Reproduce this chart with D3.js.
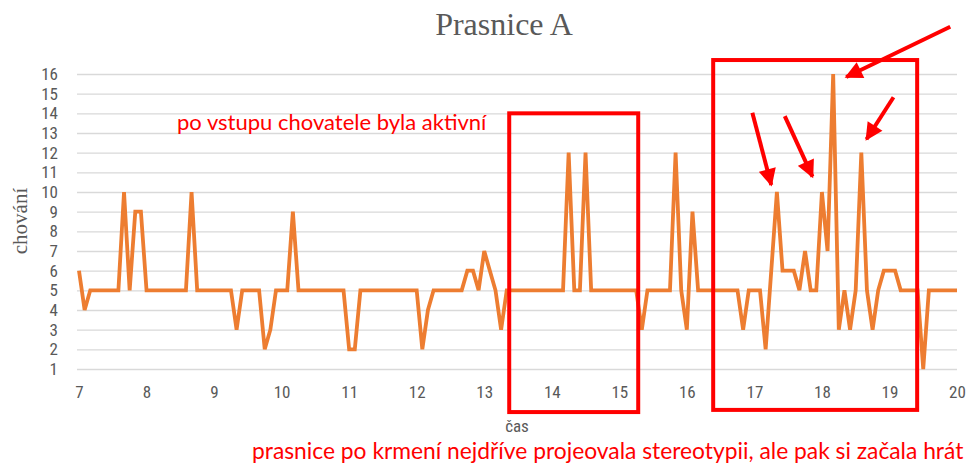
<!DOCTYPE html>
<html>
<head>
<meta charset="utf-8">
<script src="https://cdn.jsdelivr.net/npm/d3@7"></script>
<style>
  body { margin: 0; background: #fff; }
  svg { display: block; }
</style>
</head>
<body>
<svg width="966" height="465"></svg>
<script>
// chování sampled every 5 minutes, 7:00 - 20:00 (one row per hour)
const values = [
  6, 4, 5, 5, 5, 5, 5, 5, 10, 5, 9, 9,
  5, 5, 5, 5, 5, 5, 5, 5, 10, 5, 5, 5,
  5, 5, 5, 5, 3, 5, 5, 5, 5, 2, 3, 5,
  5, 5, 9, 5, 5, 5, 5, 5, 5, 5, 5, 5,
  2, 2, 5, 5, 5, 5, 5, 5, 5, 5, 5, 5,
  5, 2, 4, 5, 5, 5, 5, 5, 5, 6, 6, 5,
  7, 6, 5, 3, 5, 5, 5, 5, 5, 5, 5, 5,
  5, 5, 5, 12, 5, 5, 12, 5, 5, 5, 5, 5,
  5, 5, 5, 5, 3, 5, 5, 5, 5, 5, 12, 5,
  3, 9, 5, 5, 5, 5, 5, 5, 5, 5, 3, 5,
  5, 5, 2, 6, 10, 6, 6, 6, 5, 7, 5, 5,
  10, 7, 16, 3, 5, 3, 5, 12, 5, 3, 5, 6,
  6, 6, 5, 5, 5, 5, 1, 5, 5, 5, 5, 5,
  5
];
const xTicks = [7, 8, 9, 10, 11, 12, 13, 14, 15, 16, 17, 18, 19, 20];
const yTicks = [1, 2, 3, 4, 5, 6, 7, 8, 9, 10, 11, 12, 13, 14, 15, 16];

// annotations (data units: hours / chování)
const boxes = [
  { x0: 13.37, x1: 15.28, y0: -1.19, y1: 14.0 },
  { x0: 16.39, x1: 19.41, y0: -1.08, y1: 16.71 }
];
const arrows = [
  { x0: 19.90, y0: 18.40, x1: 18.36, y1: 15.85 },
  { x0: 16.97, y0: 14.03, x1: 17.25, y1: 10.36 },
  { x0: 17.45, y0: 13.86, x1: 17.86, y1: 10.78 },
  { x0: 19.06, y0: 14.82, x1: 18.66, y1: 12.68 }
];

const svg = d3.select("svg");
const plotLeft = 77, plotRight = 957, plotTop = 74, plotBottom = 369;

const x = d3.scaleLinear().domain([7, 20]).range([79, plotRight]);
const y = d3.scaleLinear().domain([1, 16]).range([plotBottom, plotTop]);

const points = values.map((v, i) => ({ t: 7 + i / 12, v: v }));

// title
svg.append("text")
    .attr("x", 504).attr("y", 35)
    .attr("text-anchor", "middle")
    .style("font-family", "'Liberation Serif', 'DejaVu Serif', serif")
    .style("font-size", "32px")
    .style("fill", "#595959")
    .text("Prasnice A");

// gridlines + y labels
const yAxis = svg.append("g")
    .attr("transform", `translate(${plotLeft},0)`)
    .call(d3.axisLeft(y).tickValues(yTicks).tickSize(-(plotRight - plotLeft)).tickPadding(19));
yAxis.select(".domain").remove();
yAxis.selectAll(".tick line").attr("stroke", "#d9d9d9").attr("stroke-width", 1.4);
yAxis.selectAll(".tick text")
    .style("font-family", "'Liberation Sans Narrow', 'Roboto Condensed', Roboto, sans-serif")
    .style("font-size", "17px")
    .style("fill", "#595959");

// x labels
const xAxis = svg.append("g")
    .attr("transform", `translate(0,${plotBottom})`)
    .call(d3.axisBottom(x).tickValues(xTicks).tickSize(0).tickPadding(17).tickFormat(d3.format("d")));
xAxis.select(".domain").remove();
xAxis.selectAll(".tick text")
    .style("font-family", "'Liberation Sans Narrow', 'Roboto Condensed', Roboto, sans-serif")
    .style("font-size", "17px")
    .style("fill", "#595959");

// axis titles
svg.append("text")
    .attr("transform", "translate(27,221) rotate(-90)")
    .attr("text-anchor", "middle")
    .style("font-family", "'Liberation Serif', 'DejaVu Serif', serif")
    .style("font-size", "21px")
    .style("fill", "#595959")
    .text("chování");

svg.append("text")
    .attr("x", 517).attr("y", 432)
    .attr("text-anchor", "middle")
    .style("font-family", "'Liberation Sans Narrow', 'Roboto Condensed', Roboto, sans-serif")
    .style("font-size", "17px")
    .style("fill", "#595959")
    .text("čas");

// the series
const line = d3.line().x(d => x(d.t)).y(d => y(d.v));
svg.append("path")
    .datum(points)
    .attr("fill", "none")
    .attr("stroke", "#ED7D31")
    .attr("stroke-width", 3.8)
    .attr("stroke-linejoin", "miter")
    .attr("d", line);

// red boxes
svg.selectAll("rect.box").data(boxes).enter().append("rect")
    .attr("class", "box")
    .attr("x", d => x(d.x0))
    .attr("y", d => y(d.y1))
    .attr("width", d => x(d.x1) - x(d.x0))
    .attr("height", d => y(d.y0) - y(d.y1))
    .attr("fill", "none")
    .attr("stroke", "#ff0000")
    .attr("stroke-width", 4);

// arrows
svg.append("defs").append("marker")
    .attr("id", "head")
    .attr("viewBox", "0 0 10 10")
    .attr("refX", 9).attr("refY", 5)
    .attr("markerWidth", 4.8).attr("markerHeight", 4.4)
    .attr("markerUnits", "strokeWidth")
    .attr("orient", "auto")
    .append("path").attr("d", "M0,0L10,5L0,10Z").attr("fill", "#ff0000");

svg.selectAll("line.arrow").data(arrows).enter().append("line")
    .attr("class", "arrow")
    .attr("x1", d => x(d.x0)).attr("y1", d => y(d.y0))
    .attr("x2", d => x(d.x1)).attr("y2", d => y(d.y1))
    .attr("stroke", "#ff0000")
    .attr("stroke-width", 4)
    .attr("marker-end", "url(#head)");

// red notes
svg.append("text")
    .attr("x", 177).attr("y", 130)
    .style("font-family", "Lato, 'Open Sans', sans-serif")
    .style("font-size", "22px")
    .style("fill", "#ff0000")
    .text("po vstupu chovatele byla aktivní");

svg.append("text")
    .attr("x", 252).attr("y", 459)
    .style("font-family", "Lato, 'Open Sans', sans-serif")
    .style("font-size", "22.8px")
    .style("fill", "#ff0000")
    .text("prasnice po krmení nejdříve projeovala stereotypii, ale pak si začala hrát");
</script>
</body>
</html>
